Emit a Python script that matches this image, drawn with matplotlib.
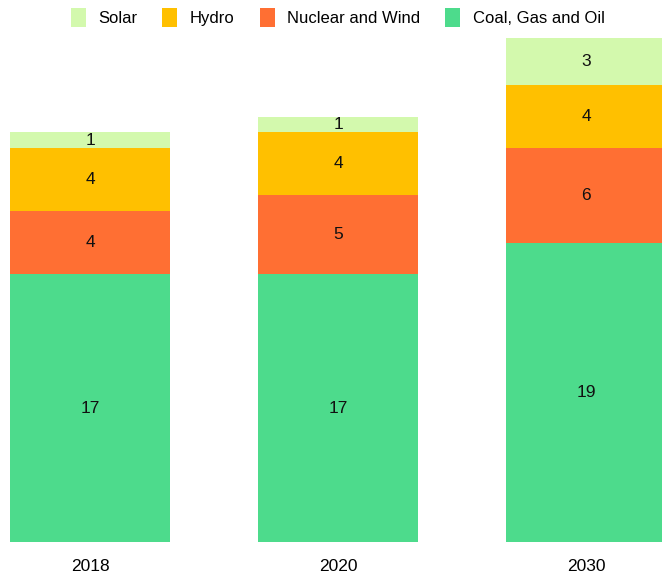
import matplotlib
matplotlib.use("Agg")
import matplotlib.pyplot as plt
import numpy as np

# ====== DATA ======
years = ["2018", "2020", "2030"]
series_names = ["Coal, Gas and Oil", "Nuclear and Wind", "Hydro", "Solar"]
coal_gas_oil = [17, 17, 19]
nuclear_wind = [4, 5, 6]
hydro = [4, 4, 4]
solar = [1, 1, 3]
colors = ["#4ddb8c", "#ff6f33", "#ffc000", "#d3f9ad"]

plt.rcParams["font.family"] = ["Liberation Sans", "DejaVu Sans"]

fig = plt.figure(figsize=(6.62, 5.75), dpi=100)
ax = fig.add_axes([0, 0.0574, 1, 0.9426])

x = np.arange(len(years))
width = 0.645
bottom = np.zeros(len(years))
bars = {}
for name, vals, col in zip(series_names, [coal_gas_oil, nuclear_wind, hydro, solar], colors):
    b = ax.bar(x, vals, width, bottom=bottom, color=col, label=name, linewidth=0)
    bars[name] = b
    for xi, v, b0 in zip(x, vals, bottom):
        ax.text(xi, b0 + v / 2, str(v), ha="center", va="center", fontsize=12.5, color="#111111")
    bottom += np.array(vals)

ax.set_xlim(-0.363, 2.306)
ax.set_ylim(0, 34.4)
ax.set_xticks(x)
ax.set_xticklabels(years, fontsize=12.5)
ax.tick_params(axis="x", length=0, pad=12)
ax.set_yticks([])
for s in ax.spines.values():
    s.set_visible(False)

# legend order: Solar, Hydro, Nuclear and Wind, Coal
order = ["Solar", "Hydro", "Nuclear and Wind", "Coal, Gas and Oil"]
handles = [bars[n] for n in order]
fig.legend(handles, order, loc="upper center", bbox_to_anchor=(0.51, 1.012), ncol=4,
           frameon=False, fontsize=12, handlelength=0.9, handleheight=1.4,
           handletextpad=0.75, columnspacing=1.5)

fig.savefig("out.png", dpi=100)
